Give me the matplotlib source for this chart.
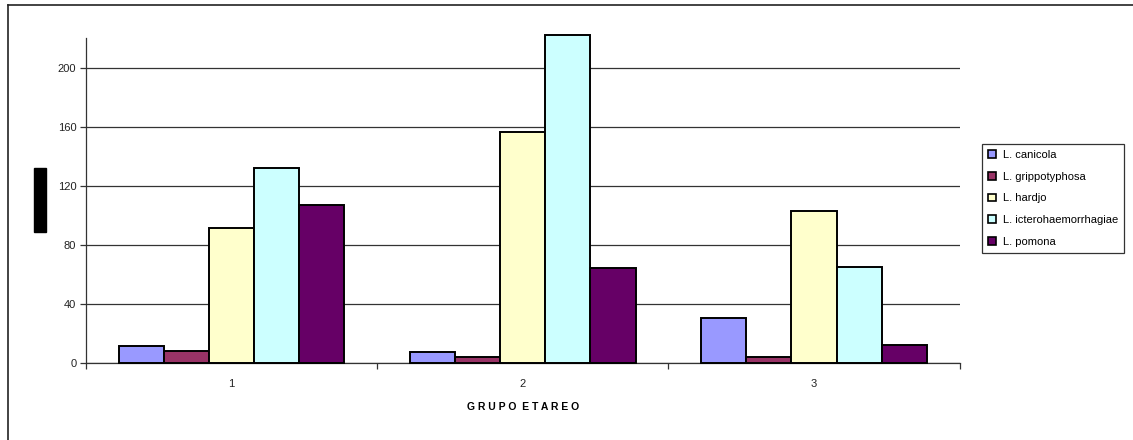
import numpy as np
import matplotlib
matplotlib.use("Agg")
import matplotlib.pyplot as plt
from matplotlib.patches import Rectangle
from matplotlib.lines import Line2D

plt.rcParams['font.family'] = ['Liberation Sans', 'DejaVu Sans']

grupos = ["1", "2", "3"]
serovares = ["L. canicola", "L. grippotyphosa", "L. hardjo",
             "L. icterohaemorrhagiae", "L. pomona"]
canicola = [11, 7, 30]
grippotyphosa = [8, 4, 4]
hardjo = [91, 156, 103]
ictero = [132, 222, 65]
pomona = [107, 64, 12]
valores = [canicola, grippotyphosa, hardjo, ictero, pomona]
colores = ["#9999FF", "#993366", "#FFFFCC", "#CCFFFF", "#660066"]

fig = plt.figure(figsize=(11.33, 4.4), dpi=100)
ax = fig.add_axes([0.0759, 0.1761, 0.8710 - 0.0759 - 0.0241, 0.9136 - 0.1761])

x = np.arange(len(grupos))
ancho = 0.155
for i, (serie, col) in enumerate(zip(valores, colores)):
    off = (i - 2) * ancho
    ax.bar(x + off, serie, ancho, color=col, edgecolor="black",
           linewidth=1.4, label=serovares[i], clip_on=False, zorder=3)

ax.set_xlim(-0.5, 2.5)
ax.set_ylim(0, 220)
ax.set_yticks(np.arange(0, 201, 40))
ax.yaxis.grid(True, color="#333333", linewidth=0.9, zorder=0)
ax.set_axisbelow(True)

ax.set_xticks(x)
ax.set_xticklabels(grupos)
ax.set_xticks([-0.5, 0.5, 1.5, 2.5], minor=True)
ax.tick_params(axis="x", which="major", length=0, pad=12, labelsize=8, colors="#222222")
ax.tick_params(axis="x", which="minor", length=4, width=0.9, direction="out", color="#333333")
ax.tick_params(axis="y", length=4, width=0.9, direction="out", labelsize=8,
               color="#333333", labelcolor="#222222", pad=3)

for s in ["top", "right"]:
    ax.spines[s].set_visible(False)
for s in ["left", "bottom"]:
    ax.spines[s].set_color("#333333")
    ax.spines[s].set_linewidth(0.9)

ax.set_xlabel("G R U P O  E T A R E O", fontsize=7.5, fontweight="bold", labelpad=9)

# leyenda a la derecha con recuadro negro
leg = ax.legend(loc="upper left", bbox_to_anchor=(0.8667, 0.6727),
                bbox_transform=fig.transFigure, fontsize=8, frameon=True,
                fancybox=False, borderpad=0.55, labelspacing=1.05,
                handlelength=0.7, handleheight=0.7, handletextpad=0.6,
                borderaxespad=0)
leg.get_frame().set_edgecolor("black")
leg.get_frame().set_linewidth(0.9)
for h in leg.legend_handles:
    h.set_linewidth(1.2)

# bloque negro del titulo del eje y
fig.patches.append(Rectangle((34 / 1133, 1 - 232 / 440), 12 / 1133, 64 / 440,
                             transform=fig.transFigure, color="black"))

# borde del grafico
fig.lines.append(Line2D([8 / 1133, 1.0], [1 - 5.5 / 440] * 2,
                        transform=fig.transFigure, color="#222222", linewidth=1.2))
fig.lines.append(Line2D([8 / 1133] * 2, [0, 1 - 5.5 / 440],
                        transform=fig.transFigure, color="#222222", linewidth=1.2))

fig.savefig("out.png", dpi=100)
